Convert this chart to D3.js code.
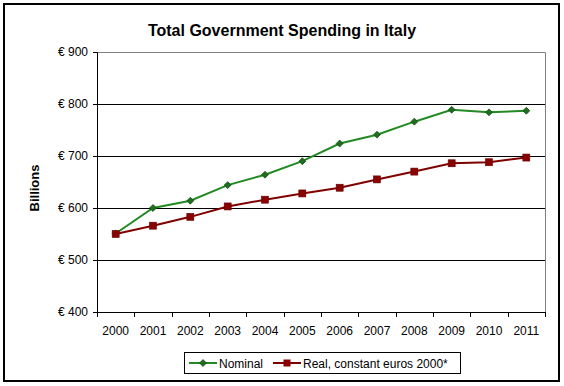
<!DOCTYPE html>
<html>
<head>
<meta charset="utf-8">
<script src="https://cdn.jsdelivr.net/npm/d3@7"></script>
<style>
  body { margin: 0; background: #fff; }
  text { font-family: Arial, "Liberation Sans", sans-serif; }
</style>
</head>
<body>
<div class="chart"></div>
<script>
const years = ["2000","2001","2002","2003","2004","2005","2006","2007","2008","2009","2010","2011"];
const nominal = [551, 600, 614, 644, 664, 690, 724, 741, 766, 789, 784, 787];
const real = [550, 566, 583, 603, 616, 628, 639, 655, 670, 686, 688, 697];
const yTicks = [400, 500, 600, 700, 800, 900];
const seriesNames = ["Nominal", "Real, constant euros 2000*"];

const svgwidth = 564, svgheight = 386;
const margin = ({top: 52, right: 19, bottom: 74, left: 97});
const width = svgwidth - margin.left - margin.right;
const height = svgheight - margin.top - margin.bottom;

const root = d3.select(".chart").append("svg")
  .attr("width", svgwidth)
  .attr("height", svgheight);

// outer frame
root.append("rect")
  .attr("x", 4).attr("y", 4)
  .attr("width", 555).attr("height", 377)
  .attr("fill", "none").attr("stroke", "#000").attr("stroke-width", 2);

root.append("text")
  .attr("x", 282).attr("y", 36)
  .attr("text-anchor", "middle")
  .attr("font-size", 16).attr("font-weight", "bold")
  .text("Total Government Spending in Italy");

root.append("text")
  .attr("transform", "translate(39,188) rotate(-90)")
  .attr("text-anchor", "middle")
  .attr("font-size", 13).attr("font-weight", "bold")
  .text("Billions");

const svg = root.append("g")
  .attr("transform", `translate(${margin.left},${margin.top})`);

const xScale = d3.scaleBand().domain(years).range([0, width]);
const yScale = d3.scaleLinear().domain([400, 900]).range([height, 0]);

// plot area border (gray top/right)
svg.append("path")
  .attr("d", `M0,0.5H${width + 0.5}V${height}`)
  .attr("fill", "none").attr("stroke", "#808080");

// gridlines
svg.append("g")
  .selectAll("line")
  .data(yTicks.slice(1, -1))
  .enter().append("line")
  .attr("x1", 0).attr("x2", width)
  .attr("y1", d => Math.round(yScale(d)) + 0.5)
  .attr("y2", d => Math.round(yScale(d)) + 0.5)
  .attr("stroke", "#000");

const yAxis = d3.axisLeft(yScale)
  .tickValues(yTicks)
  .tickSize(4)
  .tickPadding(5)
  .tickFormat(d => "€ " + d);
svg.append("g")
  .attr("class", "axis y-axis")
  .call(yAxis)
  .call(g => g.selectAll("text").attr("font-size", 12).attr("font-family", "Arial, 'Liberation Sans', sans-serif"));

// x axis: ticks at band boundaries
const xAxisG = svg.append("g")
  .attr("transform", `translate(0,${height})`);
xAxisG.append("line")
  .attr("x1", 0).attr("x2", width + 0.5)
  .attr("y1", 0.5).attr("y2", 0.5)
  .attr("stroke", "#000");
xAxisG.selectAll(".tk")
  .data(years.concat(["end"]))
  .enter().append("line")
  .attr("x1", (d, i) => Math.round(i * xScale.bandwidth()) + 0.5)
  .attr("x2", (d, i) => Math.round(i * xScale.bandwidth()) + 0.5)
  .attr("y1", 0).attr("y2", 5)
  .attr("stroke", "#000");
xAxisG.selectAll(".lbl")
  .data(years)
  .enter().append("text")
  .attr("x", d => xScale(d) + xScale.bandwidth() / 2)
  .attr("y", 23)
  .attr("text-anchor", "middle")
  .attr("font-size", 12)
  .text(d => d);

const cx = d => xScale(d) + xScale.bandwidth() / 2;
const line = d3.line().x((d, i) => cx(years[i])).y(d => yScale(d));

svg.append("path").datum(nominal)
  .attr("d", line).attr("fill", "none")
  .attr("stroke", "#238a23").attr("stroke-width", 2);
svg.append("path").datum(real)
  .attr("d", line).attr("fill", "none")
  .attr("stroke", "#800000").attr("stroke-width", 2);

const diamond = d3.symbol().type(d3.symbolDiamond2).size(30);
svg.append("g").selectAll("path")
  .data(nominal).enter().append("path")
  .attr("d", diamond)
  .attr("transform", (d, i) => `translate(${cx(years[i])},${yScale(d)})`)
  .attr("fill", "#1f6e1f").attr("stroke", "#0f4f0f").attr("stroke-width", 0.8);

svg.append("g").selectAll("rect")
  .data(real).enter().append("rect")
  .attr("x", (d, i) => cx(years[i]) - 3.5)
  .attr("y", d => yScale(d) - 3.5)
  .attr("width", 7).attr("height", 7)
  .attr("fill", "#8b0000").attr("stroke", "#600000").attr("stroke-width", 0.6);

// legend
const legend = root.append("g");
legend.append("rect")
  .attr("x", 184.5).attr("y", 352.5)
  .attr("width", 276).attr("height", 21)
  .attr("fill", "#fff").attr("stroke", "#000");
const legX = [189, 273];
legend.selectAll(".ll")
  .data(seriesNames).enter().append("line")
  .attr("x1", (d, i) => legX[i]).attr("x2", (d, i) => legX[i] + 28)
  .attr("y1", 363).attr("y2", 363)
  .attr("stroke", (d, i) => i === 0 ? "#238a23" : "#800000")
  .attr("stroke-width", 2);
legend.append("path")
  .attr("d", diamond)
  .attr("transform", `translate(${legX[0] + 14},363)`)
  .attr("fill", "#1f6e1f").attr("stroke", "#0f4f0f").attr("stroke-width", 0.8);
legend.append("rect")
  .attr("x", legX[1] + 10.5).attr("y", 359.5)
  .attr("width", 7).attr("height", 7)
  .attr("fill", "#8b0000");
legend.selectAll(".lt")
  .data(seriesNames).enter().append("text")
  .attr("x", (d, i) => legX[i] + 30)
  .attr("y", 367.5)
  .attr("font-size", 12)
  .text(d => d);
</script>
</body>
</html>
